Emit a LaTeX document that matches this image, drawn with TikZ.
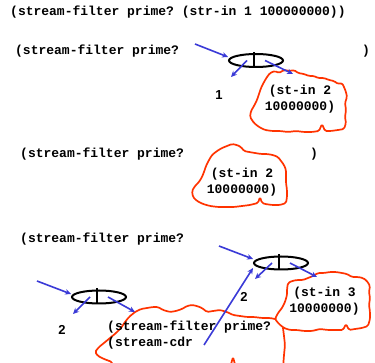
\documentclass[tikz,border=0pt]{standalone}
\usepackage{fontspec}
\setmainfont{Liberation Sans}
\setmonofont{Liberation Mono}
\usetikzlibrary{shapes.geometric,arrows.meta}
\definecolor{consred}{RGB}{255,51,0}
\definecolor{consblue}{RGB}{58,58,215}
\tikzset{
  code/.style={font=\ttfamily\bfseries\fontsize{13}{16}\selectfont, inner sep=0pt},
  num/.style={font=\rmfamily\bfseries\fontsize{13}{15}\selectfont, inner sep=0pt},
  cell/.style={ellipse, draw=black, line width=2pt, minimum width=54pt,
               minimum height=13pt, inner sep=0pt},
  divider/.style={draw=black, line width=2pt},
  ptr/.style={draw=consblue, line width=1.6pt, -{Stealth[length=6pt,width=5.5pt]}},
  cloudline/.style={draw=consred, line width=1.7pt, rounded corners=1.5pt,
                    line join=round, line cap=round}
}
\begin{document}
\begin{tikzpicture}[x=1pt,y=-1pt]
\useasboundingbox[fill=white] (0,0) rectangle (375,363);

% ---- expression lines ----
\node[code, anchor=west] (top) at (10,12) {(stream-filter prime? (str-in 1 100000000))};
\node[code, anchor=west] (sf1) at (15,51) {(stream-filter prime?};
\node[code] (cl1) at (366,51) {)};
\node[code, anchor=west] (sf2) at (20,154) {(stream-filter prime?};
\node[code] (cl2) at (314,154) {)};
\node[code, anchor=west] (sf3) at (20,239) {(stream-filter prime?};

% ---- clouds (delayed expressions) ----
\draw[cloudline] (270,73) -- (275,71) -- (279,73) -- (284,70) -- (290,71) -- (294,70)
  -- (298,73) -- (304,74) -- (309,76) -- (314,76) -- (318,78) -- (324,78) -- (329,80)
  -- (334,81) -- (338,84) -- (342,83) -- (344,87) -- (346,92) -- (347,97) -- (345,103)
  -- (346,110) -- (345,117) -- (346,123) -- (344,129) -- (338,130) -- (331,131)
  -- (325,131) -- (322,124) -- (319,131) -- (312,132) -- (304,132) -- (296,131)
  -- (288,132) -- (280,131) -- (272,131) -- (265,130) -- (259,127) -- (254,123)
  -- (250,117) -- (251,111) -- (254,106) -- (257,100) -- (259,94) -- (261,88)
  -- (264,82) -- (267,77) -- cycle;

\draw[cloudline] (209,160) -- (212,155) -- (217,151) -- (222,148) -- (227,146)
  -- (232,144) -- (237,145) -- (241,147) -- (244,151) -- (249,152) -- (255,153)
  -- (261,154) -- (267,154) -- (273,155) -- (278,157) -- (281,161) -- (284,165)
  -- (286,170) -- (286,176) -- (286,183) -- (287,190) -- (287,197) -- (286,203)
  -- (280,205) -- (272,205) -- (265,204) -- (262,203) -- (260,197) -- (258,203)
  -- (250,205) -- (242,206) -- (234,207) -- (226,207) -- (218,207) -- (210,206)
  -- (203,204) -- (197,201) -- (193,197) -- (192,191) -- (195,186) -- (199,182)
  -- (202,177) -- (204,172) -- (206,166) -- cycle;

\draw[cloudline] (288,283) -- (292,281) -- (297,280) -- (303,280) -- (308,278)
  -- (313,276) -- (318,273) -- (324,273) -- (330,272) -- (336,272) -- (342,273)
  -- (347,274) -- (352,277) -- (358,277) -- (363,278) -- (367,281) -- (370,286)
  -- (369,292) -- (370,298) -- (369,305) -- (370,312) -- (370,319) -- (368,326)
  -- (362,328) -- (355,329) -- (349,330) -- (346,324) -- (343,330) -- (336,330)
  -- (328,330) -- (320,329) -- (312,331) -- (304,331) -- (297,330) -- (290,330)
  -- (284,328) -- (279,324) -- (275,319) -- (278,313) -- (282,308) -- (285,302)
  -- (287,295) -- (287,289) -- cycle;

\begin{scope}
  \clip (0,0) rectangle (375,363);
  \draw[cloudline] (113,368) -- (112,362) -- (104,359) -- (98,356) -- (95,352)
    -- (99,347) -- (104,343) -- (110,338) -- (116,333) -- (121,328) -- (125,322)
    -- (129,317) -- (135,312) -- (141,309) -- (147,308) -- (153,307) -- (158,307)
    -- (163,310) -- (170,312) -- (176,311) -- (182,309) -- (187,306) -- (192,305)
    -- (197,306) -- (202,308) -- (207,312) -- (213,311) -- (220,310) -- (227,312)
    -- (233,315) -- (240,316) -- (247,317) -- (254,317) -- (262,318) -- (270,318)
    -- (275,319);
  \draw[cloudline] (283,328) -- (284,336) -- (285,345) -- (284,355) -- (283,368);
  \draw[cloudline] (230,368) -- (233,357) -- (236,368);
\end{scope}

% ---- contents of the clouds ----
\node[code, align=center] (d1) at (300,99.5) {(st-in 2\\10000000)};
\node[code, align=center] (d2) at (242,182) {(st-in 2\\10000000)};
\node[code, align=center] (d4) at (324.5,301) {(st-in 3\\10000000)};
\node[code, align=left, anchor=west] (d3) at (107,335) {(stream-filter prime?\\(stream-cdr};

% ---- cons cells ----
\node[cell] (c1) at (256,60.5) {};
\node[cell] (c2) at (281,263) {};
\node[cell] (c3) at (99,297) {};
\foreach \c in {c1,c2,c3}
  \draw[divider] ([xshift=-2.5pt,yshift=1pt]\c.north) -- ([xshift=-2.5pt]\c.south);

% ---- values ----
\node[num] (v1) at (219,95) {1};
\node[num] (v2) at (244,297) {2};
\node[num] (v3) at (62,330) {2};

% ---- pointers ----
\coordinate (p1) at (195,44);   \coordinate (h1) at (228,57);
\coordinate (car1) at (231,77); \coordinate (cdr1) at (293,74);
\coordinate (p2) at (219,246);  \coordinate (h2) at (253,259);
\coordinate (car2) at (255,279); \coordinate (cdr2) at (317,277);
\coordinate (p3) at (37,281);   \coordinate (h3) at (71,294);
\coordinate (car3) at (73,314); \coordinate (cdr3) at (135,312);
\coordinate (tail) at (204,345); \coordinate (h4) at (253,268);

\draw[ptr] (p1) -- (h1);
\draw[ptr] ([xshift=-9pt]c1.center) -- (car1);
\draw[ptr] ([xshift=9pt]c1.center) -- (cdr1);
\draw[ptr] (p2) -- (h2);
\draw[ptr] ([xshift=-9pt]c2.center) -- (car2);
\draw[ptr] ([xshift=9pt]c2.center) -- (cdr2);
\draw[ptr] (p3) -- (h3);
\draw[ptr] ([xshift=-9pt]c3.center) -- (car3);
\draw[ptr] ([xshift=9pt]c3.center) -- (cdr3);
\draw[ptr] (tail) -- (h4);
\end{tikzpicture}
\end{document}
